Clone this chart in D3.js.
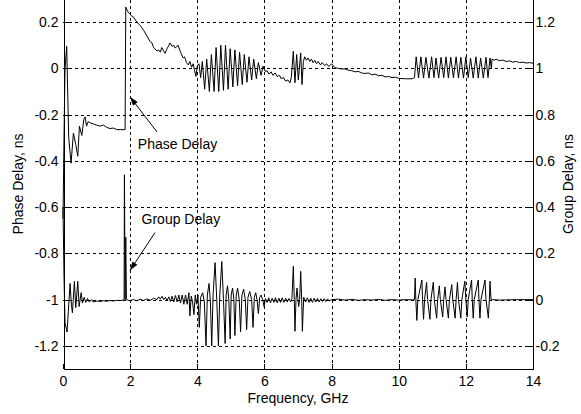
<!DOCTYPE html>
<html>
    <head>
        <script src="https://d3js.org/d3.v7.min.js"></script>
        <style>
            body { margin: 0; background: #fff; }
            svg { display: block; }
            text { font-family: "Liberation Sans", Arial, sans-serif; font-size: 14px; fill: #000; }
        </style>
    </head>
    <body>
        <div class="chart"></div>
        <script>
            // Frequency ticks (GHz) and the two y tick sets (ns)
            let freqTicks = [0, 2, 4, 6, 8, 10, 12, 14];
            let phaseTicks = [-1.2, -1, -0.8, -0.6, -0.4, -0.2, 0, 0.2];
            let groupTicks = [-0.2, 0, 0.2, 0.4, 0.6, 0.8, 1, 1.2];

            // Phase delay, [GHz, ns]
            let phaseDelay = [
                [0, -0.65], [0.03, -0.3], [0.06, 0.0], [0.11, 0.095], [0.17, -0.3], [0.24, -0.41],
                [0.31, -0.28], [0.38, -0.33], [0.44, -0.38], [0.49, -0.25], [0.56, -0.29], [0.62, -0.22],
                [0.66, -0.21], [0.7, -0.25], [0.75, -0.23], [0.8, -0.235], [0.9, -0.24], [1.0, -0.245],
                [1.1, -0.25], [1.2, -0.245], [1.3, -0.255], [1.4, -0.26], [1.5, -0.258], [1.6, -0.265],
                [1.7, -0.265], [1.85, -0.265], [1.87, 0.265], [1.93, 0.245], [2.0, 0.235], [2.05, 0.225],
                [2.1, 0.222], [2.2, 0.2], [2.3, 0.185], [2.35, 0.175], [2.4, 0.165], [2.5, 0.14],
                [2.6, 0.115], [2.65, 0.11], [2.7, 0.09], [2.8, 0.075], [2.85, 0.08], [2.9, 0.07],
                [2.94, 0.09], [3.0, 0.075], [3.04, 0.065], [3.1, 0.085], [3.19, 0.11], [3.25, 0.095],
                [3.3, 0.1], [3.34, 0.088], [3.43, 0.1], [3.5, 0.07], [3.58, 0.045], [3.62, 0.05],
                [3.68, 0.025], [3.73, 0.015], [3.78, 0.03], [3.83, 0.005], [3.88, 0.02], [3.92, -0.01],
                [3.96, -0.035], [4.0, 0.01],
                [4.05, 0.02], [4.1, -0.04], [4.15, 0.03], [4.22, -0.09], [4.28, 0.04], [4.36, -0.1],
                [4.42, 0.06], [4.5, -0.1], [4.56, 0.09], [4.64, -0.1], [4.7, 0.1], [4.78, -0.095],
                [4.84, 0.1], [4.92, -0.09], [4.98, 0.085], [5.06, -0.08], [5.12, 0.08], [5.2, -0.075],
                [5.26, 0.07], [5.34, -0.07], [5.4, 0.06], [5.48, -0.06], [5.54, 0.05], [5.62, -0.05],
                [5.68, 0.04], [5.76, -0.045], [5.82, 0.025], [5.9, -0.03], [5.96, 0.01], [6.02, -0.013],
                [6.08, -0.01], [6.13, -0.025], [6.2, -0.015], [6.25, -0.03], [6.32, -0.02], [6.38, -0.035],
                [6.45, -0.03], [6.5, -0.045], [6.57, -0.04], [6.63, -0.055], [6.7, -0.05], [6.76, -0.063],
                [6.8, -0.04], [6.86, 0.074], [6.91, -0.062], [6.96, 0.06], [7.01, -0.05], [7.08, 0.067],
                [7.12, -0.07], [7.16, 0.03], [7.2, 0.05], [7.25, 0.035], [7.3, 0.045], [7.35, 0.03],
                [7.4, 0.04], [7.45, 0.025], [7.5, 0.035], [7.55, 0.02], [7.6, 0.03], [7.67, 0.015],
                [7.72, 0.025], [7.8, 0.012], [7.85, 0.02], [7.92, 0.008], [8.0, 0.02],
                [8.1, 0.003], [8.2, 0.0], [8.3, -0.003], [8.4, -0.002], [8.5, -0.008], [8.6, -0.01],
                [8.7, -0.015], [8.8, -0.013], [8.9, -0.02], [9.0, -0.022], [9.1, -0.02], [9.2, -0.028],
                [9.3, -0.025], [9.4, -0.032], [9.5, -0.03], [9.6, -0.037], [9.7, -0.035], [9.8, -0.04],
                [9.9, -0.038], [10.0, -0.043], [10.2, -0.045], [10.4, -0.045], [10.47, -0.04],
                [10.52, 0.05], [10.59, -0.042], [10.66, 0.05], [10.74, -0.042], [10.81, 0.048], [10.9, -0.042],
                [10.98, 0.05], [11.05, -0.04], [11.11, 0.045], [11.19, -0.042], [11.26, 0.048], [11.34, -0.04],
                [11.41, 0.05], [11.48, -0.042], [11.55, 0.048], [11.63, -0.04], [11.71, 0.05], [11.78, -0.042],
                [11.85, 0.048], [11.93, -0.042], [12.0, 0.05], [12.07, -0.04], [12.14, 0.045], [12.22, -0.042],
                [12.3, 0.05], [12.37, -0.042], [12.44, 0.045], [12.52, -0.042], [12.6, 0.048], [12.66, -0.04],
                [12.72, 0.045], [12.76, 0.0], [12.78, 0.04], [12.85, 0.035], [12.9, 0.04], [13.0, 0.033],
                [13.1, 0.036], [13.2, 0.03], [13.3, 0.032], [13.4, 0.027], [13.5, 0.03], [13.6, 0.025],
                [13.7, 0.027], [13.8, 0.023], [13.9, 0.025], [14.0, 0.022]
            ];

            // Group delay, [GHz, ns], right axis
            let groupDelay = [
                [0, 0.4], [0.03, 0.1], [0.06, -0.1], [0.12, -0.14], [0.16, -0.05], [0.21, 0.07],
                [0.25, -0.02], [0.28, -0.057], [0.34, 0.079], [0.38, -0.035], [0.41, 0.02], [0.44, 0.079],
                [0.48, -0.03], [0.54, 0.03], [0.58, -0.015], [0.63, 0.01], [0.68, -0.012], [0.73, 0.005],
                [0.78, -0.01], [0.85, 0.0], [0.9, -0.01], [1.0, -0.006], [1.1, -0.008], [1.2, -0.005],
                [1.3, -0.007], [1.4, -0.004], [1.5, -0.006], [1.6, -0.003], [1.7, -0.004], [1.8, -0.002],
                [1.82, 0.0], [1.83, 0.54], [1.85, 0.0], [1.87, 0.27], [1.89, 0.0], [1.95, -0.003],
                [2.0, -0.004], [2.1, 0.0], [2.2, -0.005], [2.3, 0.002], [2.4, -0.004], [2.5, 0.003],
                [2.6, -0.003], [2.7, 0.006], [2.8, 0.0], [2.85, 0.012], [2.9, 0.002], [2.95, 0.014],
                [3.0, 0.0], [3.05, 0.01], [3.1, -0.005], [3.15, 0.012], [3.2, -0.008], [3.25, 0.015],
                [3.3, -0.01], [3.35, 0.018], [3.4, -0.01], [3.45, 0.02], [3.5, -0.015], [3.55, 0.02],
                [3.6, -0.02], [3.65, 0.02], [3.7, -0.02], [3.75, 0.03], [3.78, -0.07], [3.82, 0.015],
                [3.86, -0.01], [3.9, -0.065], [3.94, 0.02], [3.98, -0.02],
                [4.02, 0.02], [4.06, -0.12], [4.1, 0.01], [4.16, 0.03], [4.21, -0.01], [4.26, -0.2],
                [4.3, 0.02], [4.35, 0.07], [4.39, -0.01], [4.43, -0.2], [4.47, 0.02], [4.53, 0.16],
                [4.58, 0.0], [4.63, -0.2], [4.67, 0.02], [4.73, 0.165], [4.78, 0.0], [4.83, -0.19],
                [4.86, 0.02], [4.9, 0.06], [4.94, 0.0], [4.98, -0.17], [5.01, 0.02], [5.05, 0.05],
                [5.09, 0.0], [5.12, -0.155], [5.16, 0.02], [5.2, 0.05], [5.25, 0.0], [5.29, -0.14],
                [5.33, 0.02], [5.38, 0.045], [5.43, 0.0], [5.47, -0.13], [5.51, 0.01], [5.56, 0.035],
                [5.62, 0.0], [5.66, -0.12], [5.7, 0.01], [5.74, 0.03], [5.78, 0.0], [5.82, -0.06],
                [5.86, 0.01], [5.9, 0.02], [5.95, 0.0], [5.99, -0.03], [6.03, 0.005],
                [6.08, -0.012], [6.13, 0.008], [6.18, -0.014], [6.23, 0.006], [6.28, -0.012], [6.33, 0.008],
                [6.38, -0.014], [6.43, 0.006], [6.48, -0.012], [6.53, 0.008], [6.58, -0.012], [6.63, 0.006],
                [6.68, -0.01], [6.73, 0.005], [6.78, -0.01], [6.82, 0.005], [6.86, 0.144], [6.89, 0.0],
                [6.91, -0.137], [6.94, 0.0], [6.97, 0.05], [7.0, 0.0], [7.02, -0.03], [7.05, 0.0],
                [7.08, 0.122], [7.11, 0.0], [7.13, -0.137], [7.17, 0.01], [7.23, -0.01],
                [7.28, 0.008], [7.33, -0.012], [7.38, 0.006], [7.43, -0.012], [7.48, 0.006], [7.53, -0.01],
                [7.58, 0.005], [7.63, -0.01], [7.68, 0.004], [7.73, -0.008], [7.78, 0.004], [7.83, -0.008],
                [7.88, 0.003], [7.93, -0.006], [8.0, 0.0], [8.2, 0.002], [8.4, -0.002], [8.6, 0.001],
                [8.8, -0.003], [9.0, 0.0], [9.2, -0.002], [9.4, 0.001], [9.6, -0.003], [9.8, 0.0],
                [10.0, -0.002], [10.2, 0.0], [10.4, -0.001], [10.47, 0.0],
                [10.49, 0.093], [10.51, 0.0], [10.54, -0.09], [10.57, 0.0], [10.69, 0.085], [10.71, 0.0],
                [10.74, -0.085], [10.77, 0.0], [10.83, 0.075], [10.86, 0.0], [10.93, -0.085], [10.96, 0.0],
                [11.03, 0.075], [11.06, 0.0], [11.13, -0.08], [11.16, 0.0], [11.21, 0.06], [11.24, 0.0],
                [11.31, -0.075], [11.34, 0.0], [11.38, 0.055], [11.41, 0.0], [11.48, -0.08], [11.51, 0.0],
                [11.58, 0.065], [11.61, 0.0], [11.68, -0.08], [11.71, 0.0], [11.75, 0.075], [11.78, 0.0],
                [11.85, -0.08], [11.88, 0.0], [11.97, 0.08], [12.0, 0.0], [12.04, -0.075], [12.07, 0.0],
                [12.17, 0.085], [12.19, 0.0], [12.22, -0.08], [12.25, 0.0], [12.37, 0.085], [12.39, 0.0],
                [12.42, -0.08], [12.45, 0.0], [12.57, 0.085], [12.6, 0.0], [12.67, -0.08], [12.7, 0.0],
                [12.72, 0.08], [12.75, 0.0], [12.8, 0.0], [13.0, -0.002], [13.5, 0.0], [14.0, 0.0]
            ];

            // Text callouts: [label, text GHz, text ns, tail GHz, tail ns, head GHz, head ns, axis]
            let callouts = [
                ["Phase Delay", 2.23, -0.348, 2.8, -0.275, 2.0, -0.124, "left"],
                ["Group Delay", 2.34, 0.326, 2.74, 0.29, 2.0, 0.127, "right"]
            ];

            let svg = d3.select("div.chart").append("svg")
                .attr("width", 581)
                .attr("height", 414);

            let x = d3.scaleLinear().domain([0, 14]).range([63, 533]);
            let yL = d3.scaleLinear().domain([-1.3, 0.3]).range([369, -1]);
            let yR = d3.scaleLinear().domain([-0.3, 1.3]).range([369, -1]);

            let fmt = d => String(+d.toFixed(1));

            // dashed grid
            let grid = svg.append("g")
                .attr("stroke", "#000")
                .attr("stroke-dasharray", "3,3")
                .attr("shape-rendering", "crispEdges");
            grid.selectAll("line.v")
                .data(freqTicks.filter(d => d > 0 && d < 14))
                .join("line")
                .attr("x1", d => Math.round(x(d)) + 0.5)
                .attr("x2", d => Math.round(x(d)) + 0.5)
                .attr("y1", yL.range()[0])
                .attr("y2", yL.range()[1]);
            grid.selectAll("line.h")
                .data(phaseTicks)
                .join("line")
                .attr("x1", x(0))
                .attr("x2", x(14))
                .attr("y1", d => Math.round(yL(d)) + 0.5)
                .attr("y2", d => Math.round(yL(d)) + 0.5);

            // axes, ticks pointing inward
            let axL = svg.append("g")
                .attr("transform", "translate(63.5,0)")
                .call(d3.axisLeft(yL).tickValues(phaseTicks).tickFormat(fmt).tickSize(-5).tickPadding(5).tickSizeOuter(0));
            let axR = svg.append("g")
                .attr("transform", "translate(532.5,0)")
                .call(d3.axisRight(yR).tickValues(groupTicks).tickFormat(fmt).tickSize(-5).tickPadding(3).tickSizeOuter(0));
            let axB = svg.append("g")
                .attr("transform", "translate(0,368.5)")
                .call(d3.axisBottom(x).tickValues(freqTicks).tickFormat(d3.format("d")).tickSize(-5).tickPadding(8).tickSizeOuter(0));

            [axL, axR, axB].forEach(a => {
                a.selectAll("text").attr("font-size", 14).attr("font-family", null).attr("fill", "#000");
                a.selectAll("line, path").attr("stroke", "#000").attr("shape-rendering", "crispEdges");
            });

            // series lines
            let phaseLine = d3.line().x(d => x(d[0])).y(d => yL(d[1]));
            let groupLine = d3.line().x(d => x(d[0])).y(d => yR(d[1]));

            svg.append("path")
                .datum(phaseDelay)
                .attr("d", phaseLine)
                .attr("fill", "none")
                .attr("stroke", "#000")
                .attr("stroke-width", 1);

            svg.append("path")
                .datum(groupDelay)
                .attr("d", groupLine)
                .attr("fill", "none")
                .attr("stroke", "#000")
                .attr("stroke-width", 1);

            // callouts with arrows
            svg.append("defs").append("marker")
                .attr("id", "head")
                .attr("viewBox", "0 0 10 7")
                .attr("refX", 10)
                .attr("refY", 3.5)
                .attr("markerWidth", 10)
                .attr("markerHeight", 6)
                .attr("markerUnits", "userSpaceOnUse")
                .attr("orient", "auto")
                .append("path")
                .attr("d", "M0,0L10,3.5L0,7Z")
                .attr("fill", "#000");

            callouts.forEach(c => {
                let y = c[7] == "left" ? yL : yR;
                svg.append("line")
                    .attr("x1", x(c[3])).attr("y1", y(c[4]))
                    .attr("x2", x(c[5])).attr("y2", y(c[6]))
                    .attr("stroke", "#000")
                    .attr("marker-end", "url(#head)");
                svg.append("text")
                    .attr("x", x(c[1]))
                    .attr("y", y(c[2]))
                    .text(c[0]);
            });

            // axis titles
            svg.append("text")
                .attr("transform", "translate(" + 23 + "," + 184 + ") rotate(-90)")
                .attr("text-anchor", "middle")
                .text("Phase Delay, ns");
            svg.append("text")
                .attr("transform", "translate(" + 573 + "," + 184 + ") rotate(-90)")
                .attr("text-anchor", "middle")
                .text("Group Delay, ns");
            svg.append("text")
                .attr("x", (x(0) + x(14)) / 2)
                .attr("y", 403)
                .attr("text-anchor", "middle")
                .text("Frequency, GHz");
        </script>
    </body>
</html>
